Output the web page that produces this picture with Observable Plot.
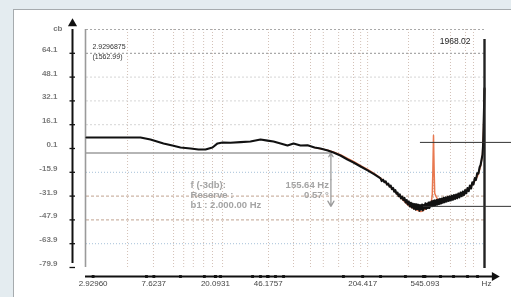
<!DOCTYPE html>
<html><head><meta charset="utf-8">
<script src="https://cdn.jsdelivr.net/npm/d3@7"></script>
<script src="https://cdn.jsdelivr.net/npm/@observablehq/plot@0.6"></script>
<style>
html,body{margin:0;padding:0;background:#e4ecf0;}
#wrap{position:relative;width:511px;height:297px;overflow:hidden;}
#panel{position:absolute;left:13px;top:9px;width:600px;height:400px;background:#fff;border-left:1.5px solid #a6abae;border-top:1.5px solid #a6abae;}
#chart{position:absolute;left:0;top:0;filter:blur(0.3px);}
</style></head><body>
<div id="wrap"><div id="panel"></div><div id="chart"></div></div>
<script>
// ---- data ----
const xDomain = [2.64, 1393];
const yDomain = [-79.9, 80.1];
const yTicks = [64.1, 48.1, 32.1, 16.1, 0.1, -15.9, -31.9, -47.9, -63.9, -79.9];
const xTickValues = [2.9296, 7.6237, 20.0931, 46.1757, 204.417, 545.093];
const xTickLabels = ["2.92960", "7.6237", "20.0931", "46.1757", "204.417", "545.093"];
const xAxisTicks = [6.79, 11.6, 16.9, 20.1, 21.8, 36.1, 40.9, 45.7, 51.8, 58.8, 151, 271, 401, 533, 697, 855, 1066, 1248];
const xGrid = [5.04, 7.58, 10.4, 12.2, 14.2, 16.7, 19.2, 22.5, 46.4, 68.8, 89.9, 110, 140, 177, 198, 221, 421, 624, 815, 1033, 1171];
const yGridStrong = [80.1, 64.1];
const yGridLight = [48.1, 32.1, 16.1];
const yGridBlue = [-15.9, -63.9];
const yGridBrown = [-31.9, -47.9];

const blackFreq = [2.64, 3.29, 4.51, 6.18, 7.23, 8.88, 10.2, 11.6, 13.6, 15.4, 17.2, 19.2, 20.8, 22.5, 25.5, 29.9, 34.9, 40.9, 45.7, 50.2, 56.1, 62.6, 68.8, 76.8, 85.8, 95.8, 105, 118, 129, 144, 161, 177, 198, 221, 246,
  271, 276, 282, 288, 294, 300, 306, 312, 318, 324, 330, 336, 342, 348, 354, 360, 367, 374, 381, 388, 395, 402, 409, 416, 423, 430, 437, 444, 451, 458, 465, 472, 479, 486, 493, 500, 507, 514, 521, 528, 535, 542, 549, 556, 563, 570, 577, 584, 591, 598,
  606, 614, 622, 630, 638, 646, 655, 664, 673, 682, 692, 702, 712, 722, 733, 744, 756, 768, 780, 793, 806, 819, 833, 847, 861, 876, 891, 906, 922, 938, 955, 972, 990, 1008, 1027, 1046, 1066, 1086, 1107, 1128, 1150, 1172, 1195, 1218, 1242, 1266, 1290, 1310, 1330, 1350, 1362, 1371, 1385, 1393];
const blackDb = [7.5, 7.5, 7.5, 7.5, 6.1, 3.5, 2.1, 0.8, 0.1, -0.6, -0.6, 0.8, 3.5, 4.1, 4.0, 4.4, 4.8, 6.1, 5.4, 4.8, 3.5, 2.1, 3.5, 2.1, 2.3, 0.8, 0.1, -1.2, -2.6, -4.6, -7.3, -9.3, -12.0, -14.6, -17.3,
  -20.0, -21.8, -20.9, -22.6, -22.0, -24.2, -23.5, -25.6, -24.8, -27.2, -26.4, -28.9, -27.8, -30.3, -29.5, -32.0, -30.8, -33.4, -32.2, -34.6, -33.1, -36.2, -34.5, -37.5, -35.6, -38.8, -36.4, -39.6, -37.0, -40.4, -37.2, -41.0, -37.4, -40.6, -37.8, -41.8, -38.0, -40.9, -37.6, -41.5, -37.9, -40.2, -36.8, -40.5, -37.0, -39.8, -36.2, -39.9, -36.0, -38.8,
  -35.4, -38.6, -35.0, -38.4, -34.8, -37.9, -34.6, -37.6, -34.2, -37.2, -33.8, -36.9, -33.5, -36.4, -33.0, -36.0, -32.8, -35.6, -32.4, -35.2, -32.0, -34.8, -31.6, -34.4, -31.2, -33.9, -30.8, -33.4, -30.2, -32.8, -29.5, -32.0, -28.8, -31.2, -27.8, -30.0, -26.5, -28.6, -24.8, -26.8, -22.6, -24.0, -19.8, -21.0, -16.5, -16.8, -12.5, -11.0, -7.5, -4.0, 2, 12.3, 30, 40.5];

const redFreq = [95.8, 105, 118, 129, 144, 161, 177, 198, 221, 246, 271, 298, 327, 354, 383, 414, 448, 485, 511, 525, 552, 582, 600, 612, 618, 624, 630, 636, 648, 665, 705, 752, 815, 911, 1001, 1083, 1171, 1248, 1308, 1350, 1371, 1393];
const redDb = [0.8, 0.0, -1.0, -2.2, -4.0, -6.5, -8.6, -11.4, -14.0, -16.8, -19.8, -23.4, -27.0, -30.8, -34.2, -37.6, -39.8, -41.5, -42.3, -41.8, -40.5, -39.0, -37.5, -31, -14, 8.9, -14, -30, -32, -34.0, -35.3, -34.3, -33.3, -31.8, -30.0, -27.5, -23.2, -18.5, -12.2, -4.0, 12.3, 40];

const refDb = -2.9;          // -3 dB reference
const refFreq = 124;         // where the reference line / arrow sits
const arrowBottomDb = -38.8;
const calloutUpper = {db: 4.2, from: 508};
const calloutLower = {db: -38.8, from: 533};
const calloutEnd = 2200;
const cursorTexts = ["2.9296875", "(1562.99)"];
const cursorTextDb = [68.4, 61.8];
const rightCursorText = "1968.02";
const rightCursorDb = 72.2;
const infoLeft = ["f (-3db):", "Reserve :", "b1 : 2.000.00 Hz"];
const infoRight = ["155.64 Hz", "0.57 °", ""];
const infoDb = [-24.6, -31.4, -38.1];
const infoFreq = 13.6;

// ---- build ----
const x0 = xDomain[0], x1 = xDomain[1], y0 = yDomain[0], y1 = yDomain[1];
const black = blackFreq.map((f, i) => ({f, v: blackDb[i]}));
const red = redFreq.map((f, i) => ({f, v: redDb[i]}));
const font = "'Liberation Sans', Arial, sans-serif";

const plot = Plot.plot({
  width: 511, height: 297,
  marginLeft: 86, marginRight: 27, marginTop: 29, marginBottom: 30,
  style: {background: "transparent", fontFamily: font, overflow: "visible"},
  x: {type: "log", domain: xDomain, axis: null},
  y: {domain: yDomain, axis: null},
  marks: [
    Plot.ruleX(xGrid, {y1: y0, y2: y1, stroke: "#d3c0b6", strokeDasharray: "1,2", strokeWidth: 1}),
    Plot.ruleY(yGridStrong, {x1: x0, x2: x1, stroke: "#a9a9a9", strokeDasharray: "2,2", strokeWidth: 1.2}),
    Plot.ruleY(yGridLight, {x1: x0, x2: x1, stroke: "#d6d6d6", strokeDasharray: "2,2"}),
    Plot.ruleY(yGridBlue, {x1: x0, x2: x1, stroke: "#b8cde0", strokeDasharray: "1,2", strokeWidth: 1.2}),
    Plot.ruleY(yGridBrown, {x1: x0, x2: x1, stroke: "#cdb5a6", strokeDasharray: "3,2", strokeWidth: 1.1}),
    // left frame line
    Plot.ruleX([x0], {y1: y0, y2: y1, dx: -1, stroke: "#9a9a9a", strokeWidth: 1.6}),
    // -3 dB reference line and arrow
    Plot.ruleY([refDb], {x1: x0, x2: refFreq, stroke: "#9c9c9c", strokeWidth: 1.6}),
    Plot.arrow([0], {x1: refFreq, x2: refFreq, y1: (refDb + arrowBottomDb) / 2, y2: arrowBottomDb, stroke: "#9c9c9c", strokeWidth: 1.3, headLength: 7}),
    Plot.arrow([0], {x1: refFreq, x2: refFreq, y1: (refDb + arrowBottomDb) / 2, y2: refDb, stroke: "#9c9c9c", strokeWidth: 1.3, headLength: 5}),
    // curves
    Plot.line(red, {x: "f", y: "v", stroke: "#e8784f", strokeWidth: 1.5}),
    Plot.line(black, {x: "f", y: "v", stroke: "#111", strokeWidth: 2.1, strokeLinejoin: "round"}),
    // right cursor
    Plot.ruleX([x1], {y1: y0, y2: y1, insetBottom: -10, insetTop: 1, stroke: "#222", strokeWidth: 2.4}),
    // callout lines
    Plot.ruleY([calloutUpper.db], {x1: calloutUpper.from, x2: calloutEnd, stroke: "#333", strokeWidth: 1}),
    Plot.ruleY([calloutLower.db], {x1: calloutLower.from, x2: calloutEnd, stroke: "#333", strokeWidth: 1}),
    // y axis
    Plot.ruleX([x0], {y1: y0, y2: y1, dx: -14, insetTop: -4, stroke: "#111", strokeWidth: 2}),
    Plot.dot([0], {x: x0, y: y1, dx: -14, dy: -6, symbol: "triangle", r: 3.4, fill: "#111", stroke: null}),
    Plot.ruleY(yTicks, {x1: x0, x2: x0, dx: -14, insetLeft: -2.5, insetRight: -3, stroke: "#111", strokeWidth: 1.3}),
    Plot.text(yTicks, {x: x0, y: d => d, text: d => d.toFixed(1), textAnchor: "end", dx: -29, dy: -4, fontSize: 8, fontWeight: "bold", fill: "#7a7a7a"}),
    Plot.text(["cb"], {x: x0, y: y1, dx: -24, dy: -1, textAnchor: "end", fontSize: 8, fontWeight: "bold", fill: "#7a7a7a"}),
    // x axis
    Plot.ruleY([y0], {x1: x0, x2: x1, dy: 9, insetLeft: -1, insetRight: -8, stroke: "#111", strokeWidth: 2}),
    Plot.dot([0], {x: x1, y: y0, dx: 10, dy: 9, symbol: "triangle", rotate: 90, r: 3.4, fill: "#111", stroke: null}),
    Plot.dot(xAxisTicks.concat(xTickValues), {x: d => d, y: y0, dy: 9, r: 1.6, symbol: "square", fill: "#111", stroke: null}),
    Plot.text(xTickValues, {x: d => d, y: y0, dy: 16, text: (d, i) => xTickLabels[i], fontSize: 8, fill: "#444", letterSpacing: "0.8px"}),
    Plot.text(["Hz"], {x: x1, y: y0, dx: 2, dy: 16, fontSize: 8, fill: "#444"}),
    // readouts
    Plot.text(cursorTexts, {x: x0, y: (d, i) => cursorTextDb[i], dx: 6, textAnchor: "start", fontSize: 7, fill: "#333", letterSpacing: "1px"}),
    Plot.text([rightCursorText], {x: x1, y: rightCursorDb, dx: -14, textAnchor: "end", fontSize: 8.5, fill: "#222", letterSpacing: "0.6px"}),
    Plot.text(infoLeft, {x: infoFreq, y: (d, i) => infoDb[i], textAnchor: "start", fontSize: 9.5, fontWeight: "bold", fill: "#a4a4a4", letterSpacing: "0.4px"}),
    Plot.text(infoRight, {x: refFreq, y: (d, i) => infoDb[i], dx: -2, textAnchor: "end", fontSize: 9.5, fontWeight: "bold", fill: "#a4a4a4", letterSpacing: "0.4px"})
  ]
});
document.getElementById("chart").appendChild(plot);
</script></body></html>
